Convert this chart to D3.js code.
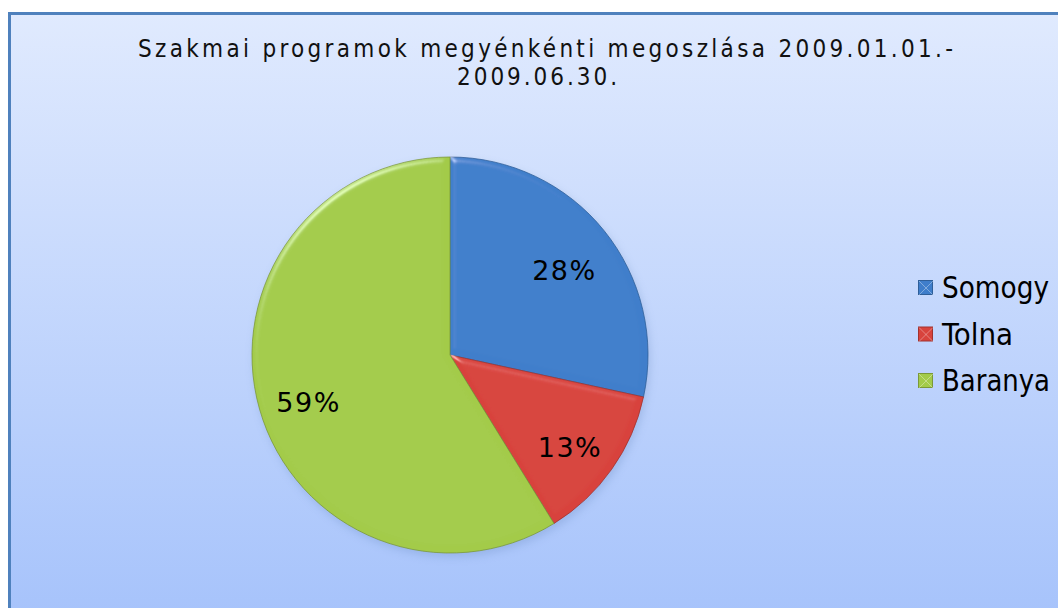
<!DOCTYPE html>
<html>
<head>
<meta charset="utf-8">
<script src="https://cdn.jsdelivr.net/npm/d3@7"></script>
<style>
  html, body { margin: 0; padding: 0; background: #fff; }
  svg { display: block; }
</style>
</head>
<body>
<svg width="1058" height="608"></svg>
<script>
// data
const categories = ["Somogy", "Tolna", "Baranya"];
const values = [28.4, 12.8, 58.8];
const colors = ["#3f7ecb", "#d8433d", "#a3cb4a"];
const titleLines = ["Szakmai programok megyénkénti megoszlása 2009.01.01.-", "2009.06.30."];

const W = 1058, H = 608;
const cx = 450, cy = 355, R = 198;
const total = d3.sum(values);

const svg = d3.select("svg");
const defs = svg.append("defs");

const bg = defs.append("linearGradient").attr("id", "bg")
  .attr("x1", 0).attr("y1", 0).attr("x2", 0).attr("y2", 1);
bg.append("stop").attr("offset", "0%").attr("stop-color", "#e0eafe");
bg.append("stop").attr("offset", "100%").attr("stop-color", "#a5c2fb");

// soft bevel for slices (light only near the edges)
const bevel = defs.append("filter").attr("id", "bevel")
  .attr("x", "-10%").attr("y", "-10%").attr("width", "120%").attr("height", "120%");
bevel.append("feGaussianBlur").attr("in", "SourceAlpha").attr("stdDeviation", 3).attr("result", "blur");
bevel.append("feSpecularLighting").attr("in", "blur").attr("surfaceScale", 4)
  .attr("specularConstant", 0.8).attr("specularExponent", 30)
  .attr("lighting-color", "#ffffff").attr("result", "spec")
  .append("feDistantLight").attr("azimuth", 235).attr("elevation", 30);
bevel.append("feComposite").attr("in", "spec").attr("in2", "SourceAlpha")
  .attr("operator", "in").attr("result", "specIn");
bevel.append("feComposite").attr("in", "SourceGraphic").attr("in2", "specIn")
  .attr("operator", "arithmetic").attr("k1", 0).attr("k2", 1).attr("k3", 0.45).attr("k4", 0);

const shadow = defs.append("filter").attr("id", "shadow")
  .attr("x", "-20%").attr("y", "-20%").attr("width", "140%").attr("height", "140%");
shadow.append("feGaussianBlur").attr("stdDeviation", 4);

// chart area
svg.append("rect")
  .attr("x", 9.5).attr("y", 13.5)
  .attr("width", W + 10).attr("height", H + 10)
  .attr("fill", "url(#bg)")
  .attr("stroke", "#4f81bd").attr("stroke-width", 3);

// title
const titleX = [138, 457], titleY = [57, 85], titleLen = [815, 160];
svg.append("g").selectAll("text")
  .data(titleLines)
  .join("text")
  .attr("x", (d, i) => titleX[i])
  .attr("y", (d, i) => titleY[i])
  .attr("textLength", (d, i) => titleLen[i])
  .attr("lengthAdjust", "spacing")
  .attr("font-family", "'Liberation Sans Narrow', 'DejaVu Sans Condensed', sans-serif")
  .attr("font-size", 24)
  .attr("fill", "#111")
  .text(d => d);

// pie
const pie = d3.pie().sort(null).value(d => d)
  .startAngle(0).endAngle(2 * Math.PI);
const arcs = pie(values);
const arc = d3.arc().innerRadius(0).outerRadius(R);
const labelArc = d3.arc().innerRadius(147).outerRadius(147);

const g = svg.append("g").attr("transform", `translate(${cx},${cy})`);

g.append("circle")
  .attr("cx", 2).attr("cy", 4).attr("r", R)
  .attr("fill", "#6f8fc4").attr("opacity", 0.35)
  .attr("filter", "url(#shadow)");

g.selectAll("path.slice")
  .data(arcs)
  .join("path")
  .attr("class", "slice")
  .attr("d", arc)
  .attr("fill", (d, i) => colors[i])
  .attr("stroke", (d, i) => d3.color(colors[i]).darker(0.8))
  .attr("stroke-width", 0.8)
  .attr("filter", "url(#bevel)");

g.selectAll("text.pct")
  .data(arcs)
  .join("text")
  .attr("class", "pct")
  .attr("transform", d => {
    const [x, y] = labelArc.centroid(d);
    return `translate(${x},${y + 17})`;
  })
  .attr("text-anchor", "middle")
  .attr("font-family", "'DejaVu Sans', sans-serif")
  .attr("font-size", 27)
  .attr("letter-spacing", 1.5)
  .attr("fill", "#000")
  .text(d => Math.round(d.value / total * 100) + "%");

// legend
const legendY = d3.scalePoint().domain(categories).range([288, 381]);
const legendLen = [107, 71, 108];
const leg = svg.append("g").selectAll("g")
  .data(categories)
  .join("g")
  .attr("transform", d => `translate(918,${legendY(d)})`);

leg.append("rect")
  .attr("x", 0.5).attr("y", -7.5).attr("width", 14).attr("height", 14)
  .attr("fill", (d, i) => colors[i])
  .attr("stroke", (d, i) => d3.color(colors[i]).darker(0.8))
  .attr("stroke-width", 1);
leg.append("path")
  .attr("d", "M1,-7 L15,7 M15,-7 L1,7")
  .attr("stroke", "#fff").attr("stroke-opacity", 0.35).attr("stroke-width", 1);

leg.append("text")
  .attr("x", 24).attr("y", 10)
  .attr("textLength", (d, i) => legendLen[i])
  .attr("lengthAdjust", "spacingAndGlyphs")
  .attr("font-family", "'Liberation Sans Narrow', 'DejaVu Sans Condensed', sans-serif")
  .attr("font-size", 30)
  .attr("fill", "#000")
  .text(d => d);
</script>
</body>
</html>
